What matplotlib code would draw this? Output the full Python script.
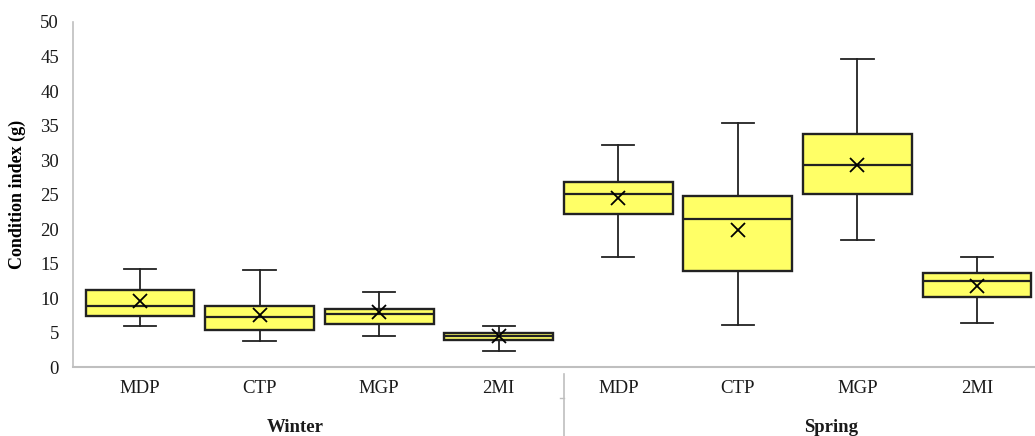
import matplotlib
matplotlib.use("Agg")
import matplotlib.pyplot as plt
from matplotlib.lines import Line2D

categories = ["MDP", "CTP", "MGP", "2MI", "MDP", "CTP", "MGP", "2MI"]
groups = ["Winter", "Spring"]
whisker_low = [5.9, 3.8, 4.5, 2.3, 15.9, 6.1, 18.4, 6.4]
q1 = [7.4, 5.4, 6.2, 3.9, 22.2, 13.9, 25.1, 10.2]
median = [8.8, 7.2, 7.7, 4.5, 25.1, 21.5, 29.3, 12.5]
q3 = [11.1, 8.9, 8.4, 5.0, 26.8, 24.8, 33.7, 13.6]
whisker_high = [14.2, 14.1, 10.8, 5.9, 32.2, 35.3, 44.7, 16.0]
mean = [9.6, 7.5, 8.0, 4.5, 24.5, 19.8, 29.3, 11.7]
yticks = [0, 5, 10, 15, 20, 25, 30, 35, 40, 45, 50]

plt.rcParams['font.family'] = ['Liberation Serif', 'DejaVu Serif']

W, H = 1035, 436
fig = plt.figure(figsize=(W / 100, H / 100), dpi=100)
ax = fig.add_axes([73 / W, 1 - 367 / H, (1035 - 73) / W, (367 - 22) / H])

stats = []
for i in range(len(categories)):
    stats.append(dict(whislo=whisker_low[i], q1=q1[i], med=median[i], q3=q3[i],
                      whishi=whisker_high[i], mean=mean[i], fliers=[], label=categories[i]))

edge = '#222222'
ax.bxp(stats, positions=range(len(categories)), widths=0.91, patch_artist=True,
       showmeans=True, showfliers=False,
       boxprops=dict(facecolor='#FFFF66', edgecolor=edge, linewidth=1.7),
       medianprops=dict(color=edge, linewidth=1.6),
       whiskerprops=dict(color=edge, linewidth=1.3),
       capprops=dict(color=edge, linewidth=1.3),
       capwidths=0.27,
       meanprops=dict(marker='x', markersize=10, markeredgecolor='black',
                      markeredgewidth=1.3, linestyle='none'))

ax.set_xlim(-0.56, 7.485)
ax.set_ylim(0, 50)
ax.set_yticks(yticks)
ax.set_yticklabels([str(v) for v in yticks], fontsize=13.5, color='#1a1a1a')
ax.set_xticks(range(len(categories)))
ax.set_xticklabels(categories, fontsize=13.5, color='#1a1a1a')
ax.tick_params(axis='y', length=0, pad=10)
ax.tick_params(axis='x', length=0, pad=9)

for s in ['top', 'right']:
    ax.spines[s].set_visible(False)
ax.spines['left'].set_color('#bfbfbf')
ax.spines['bottom'].set_color('#bfbfbf')
ax.spines['left'].set_linewidth(1.2)
ax.spines['bottom'].set_linewidth(1.5)

ax.set_ylabel("Condition index (g)", fontsize=13, fontweight='bold', labelpad=10)

# group separator line below axis
trans = ax.get_xaxis_transform()
ax.add_line(Line2D([3.55, 3.55], [-0.02, -0.25], transform=trans, color='#bfbfbf',
                   linewidth=1.2, clip_on=False))
ax.add_line(Line2D([3.51, 3.55], [-0.09, -0.09], transform=trans, color='#bfbfbf',
                   linewidth=1.0, clip_on=False))

ax.text(1.30, -0.152, groups[0], transform=trans, ha='center', va='top',
        fontsize=13.5, fontweight='bold', color='#1a1a1a')
ax.text(5.78, -0.152, groups[1], transform=trans, ha='center', va='top',
        fontsize=13.5, fontweight='bold', color='#1a1a1a')

fig.savefig("out.png", dpi=100)
